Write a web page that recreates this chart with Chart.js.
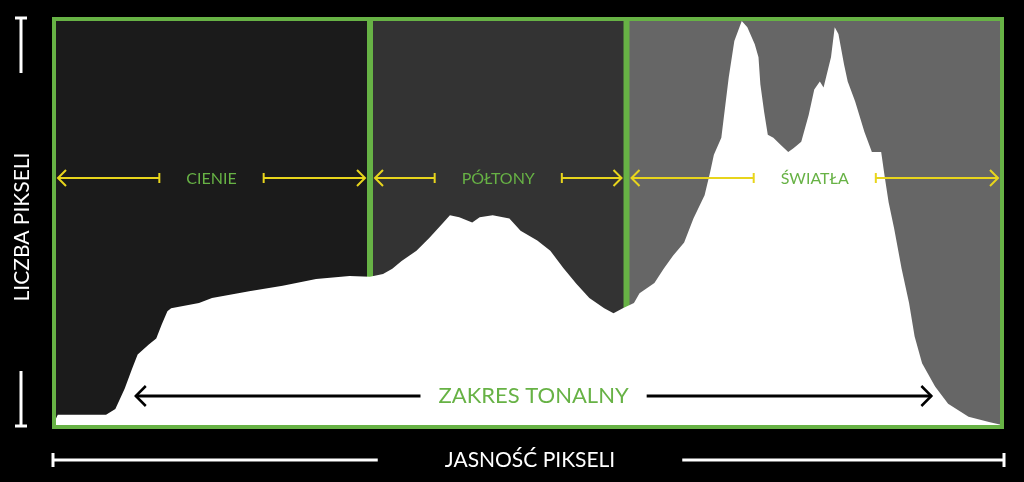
<!DOCTYPE html>
<html>
<head>
<meta charset="utf-8">
<script src="https://cdn.jsdelivr.net/npm/chart.js@4"></script>
<style>
  html, body { margin: 0; padding: 0; background: #000; }
  #wrap { width: 1024px; height: 482px; }
</style>
</head>
<body>
<div id="wrap"><canvas id="histChart"></canvas></div>
<script>
// histogram outline: brightness (0-255) vs relative pixel count (0-100)
const brightness = [0, 1, 14, 16.5, 19, 21, 22.5, 25.5, 27.5, 29, 30.5, 31.5, 39, 42.5, 52.5, 61.5, 70.5, 79.5,
  85, 88.5, 91, 93.5, 97.5, 101, 104.5, 106.5, 109, 112.5, 114.5, 118, 122.5, 125.5, 130, 133.5, 137, 140.5,
  144, 148, 150.5, 153, 156, 157.5, 161.5, 164, 166.5, 169.5, 172, 175, 176.5, 177.5, 179.5, 181.5, 183, 185,
  186.5, 188.5, 189.5, 190, 191, 192, 193.5, 195.5, 197.5, 199, 201, 203, 204.5, 206, 207, 209, 210, 211,
  212.5, 213.5, 215.5, 218, 220, 222.5, 223.5, 224.5, 226, 228, 230, 231.5, 233.5, 237, 240.5, 246, 251.5, 255];
const pixelCount = [1, 3, 3, 4.4, 9.4, 14.3, 17.8, 20.2, 21.7, 25.2, 28.4, 29.1, 30.4, 31.6, 33.3, 34.6, 36.3, 37,
  36.8, 37.5, 38.8, 40.7, 43.2, 46.4, 49.9, 51.9, 51.4, 50.1, 51.4, 51.9, 51.1, 48.1, 45.7, 43.2, 39, 35.1,
  31.6, 29.1, 27.9, 29.1, 30.4, 32.8, 35.3, 38.8, 42, 45.2, 51.1, 56.8, 62.5, 66.7, 70.9, 85.7, 94.6, 99.5,
  98, 93.8, 90.6, 84, 77.3, 71.6, 70.9, 69.1, 67.4, 68.4, 69.9, 76.5, 82.7, 84.7, 83.2, 90.6, 98, 96.3,
  88.9, 84.7, 79.8, 72.3, 67.4, 67.4, 61, 55.1, 48.6, 38.8, 30.4, 22.2, 15.6, 9.9, 5.7, 2.5, 1.2, 0.5];

const zoneEdges = [0, 85, 154, 255];
const zoneLabels = ["CIENIE", "PÓŁTONY", "ŚWIATŁA"];
const tonalRange = [22, 236];
const tonalLabel = "ZAKRES TONALNY";
const xTitle = "JASNOŚĆ PIKSELI";
const yTitle = "LICZBA PIKSELI";

const GREEN = "#67b245";
const YELLOW = "#e8d51c";
const ZONE_FILLS = ["#1b1b1b", "#333333", "#666666"];
const FONT = "Lato, 'Open Sans', sans-serif";

function seg(ctx, x0, y0, x1, y1) {
  ctx.beginPath();
  ctx.moveTo(x0, y0);
  ctx.lineTo(x1, y1);
  ctx.stroke();
}

function arrowHead(ctx, x, y, dir, size) {
  ctx.beginPath();
  ctx.moveTo(x - dir * size, y - size);
  ctx.lineTo(x, y);
  ctx.lineTo(x - dir * size, y + size);
  ctx.stroke();
}

const decorPlugin = {
  id: "decor",
  beforeDatasetsDraw(chart) {
    const { ctx, chartArea: a, scales: { x } } = chart;
    ctx.save();
    for (let i = 0; i < zoneLabels.length; i++) {
      const x0 = x.getPixelForValue(zoneEdges[i]);
      const x1 = x.getPixelForValue(zoneEdges[i + 1]);
      ctx.fillStyle = ZONE_FILLS[i];
      ctx.fillRect(x0, a.top, x1 - x0, a.bottom - a.top);
    }
    ctx.strokeStyle = GREEN;
    ctx.lineWidth = 6;
    for (let i = 1; i < zoneEdges.length - 1; i++) {
      const px = x.getPixelForValue(zoneEdges[i]);
      seg(ctx, px, a.top, px, a.bottom);
    }
    ctx.restore();
  },
  afterDatasetsDraw(chart) {
    const { ctx, chartArea: a, scales: { x } } = chart;
    ctx.save();

    // zone arrows
    const ay = 178;
    ctx.font = "16px " + FONT;
    ctx.textAlign = "center";
    ctx.textBaseline = "middle";
    for (let i = 0; i < zoneLabels.length; i++) {
      const x0 = x.getPixelForValue(zoneEdges[i]) + (i === 0 ? 4 : 5);
      const x1 = x.getPixelForValue(zoneEdges[i + 1]) - (i === zoneLabels.length - 1 ? 4 : 5);
      const cx = (x0 + x1) / 2;
      const half = ctx.measureText(zoneLabels[i]).width / 2 + 27;
      ctx.strokeStyle = YELLOW;
      ctx.lineWidth = 2;
      seg(ctx, x0, ay, cx - half, ay);
      seg(ctx, cx + half, ay, x1, ay);
      seg(ctx, cx - half, ay - 5, cx - half, ay + 5);
      seg(ctx, cx + half, ay - 5, cx + half, ay + 5);
      arrowHead(ctx, x0, ay, -1, 8);
      arrowHead(ctx, x1, ay, 1, 8);
      ctx.fillStyle = GREEN;
      ctx.fillText(zoneLabels[i], cx, ay + 1);
    }

    // tonal range arrow
    const ty = 396;
    const t0 = x.getPixelForValue(tonalRange[0]);
    const t1 = x.getPixelForValue(tonalRange[1]);
    const tc = (t0 + t1) / 2;
    ctx.font = "22px " + FONT;
    const th = ctx.measureText(tonalLabel).width / 2 + 18;
    ctx.strokeStyle = "#000";
    ctx.lineWidth = 3;
    seg(ctx, t0, ty, tc - th, ty);
    seg(ctx, tc + th, ty, t1, ty);
    ctx.lineWidth = 2.5;
    arrowHead(ctx, t0, ty, -1, 10);
    arrowHead(ctx, t1, ty, 1, 10);
    ctx.fillStyle = GREEN;
    ctx.fillText(tonalLabel, tc, ty);

    // frame
    ctx.strokeStyle = GREEN;
    ctx.lineWidth = 4;
    ctx.strokeRect(a.left, a.top, a.right - a.left, a.bottom - a.top);

    // axis titles with white bars
    ctx.strokeStyle = "#fff";
    ctx.fillStyle = "#fff";
    ctx.lineWidth = 3;
    const by = 460;
    ctx.font = "21px " + FONT;
    const xc = (a.left + a.right) / 2 + 2;
    const xh = ctx.measureText(xTitle).width / 2 + 67;
    seg(ctx, a.left - 2, by, xc - xh, by);
    seg(ctx, xc + xh, by, a.right + 2, by);
    seg(ctx, a.left - 1, by - 7, a.left - 1, by + 7);
    seg(ctx, a.right + 2, by - 7, a.right + 2, by + 7);
    ctx.fillText(xTitle, xc, by);

    const lx = 21;
    seg(ctx, lx, a.top - 2, lx, 73);
    seg(ctx, lx - 6, a.top - 1, lx + 6, a.top - 1);
    seg(ctx, lx, 371, lx, a.bottom);
    seg(ctx, lx - 6, a.bottom - 1, lx + 6, a.bottom - 1);
    ctx.translate(lx + 1, (a.top + a.bottom) / 2 + 4);
    ctx.rotate(-Math.PI / 2);
    ctx.fillText(yTitle, 0, 0);

    ctx.restore();
  }
};

new Chart(document.getElementById("histChart"), {
  type: "line",
  data: {
    datasets: [{
      data: brightness.map((b, i) => ({ x: b, y: pixelCount[i] })),
      fill: "origin",
      backgroundColor: "#ffffff",
      borderWidth: 0,
      pointRadius: 0,
      tension: 0
    }]
  },
  options: {
    responsive: true,
    maintainAspectRatio: false,
    animation: false,
    layout: { padding: { left: 54, right: 22, top: 19, bottom: 55 } },
    scales: {
      x: { type: "linear", min: 0, max: 255, display: false },
      y: { min: 0, max: 100, display: false }
    },
    plugins: {
      legend: { display: false },
      tooltip: { enabled: false }
    }
  },
  plugins: [decorPlugin]
});
</script>
</body>
</html>
